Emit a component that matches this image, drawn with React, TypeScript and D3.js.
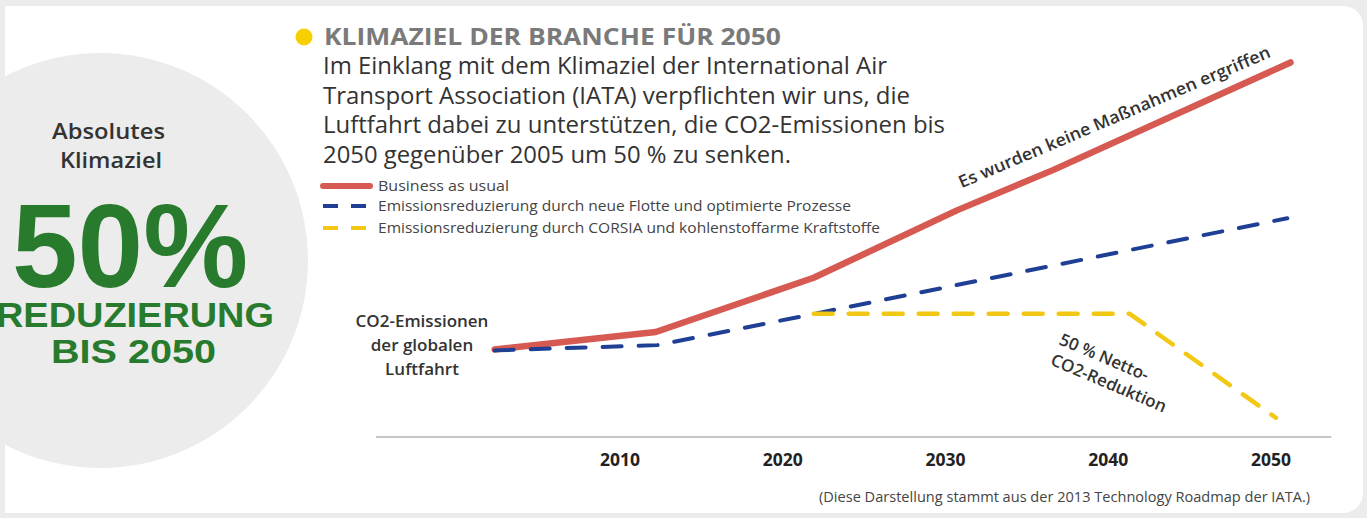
import React from "react";
import * as d3 from "d3";

// ---- Data ----
const bauYears = [2002.3, 2012.2, 2021.9, 2030.7, 2036.6, 2051.2];
const bauValues = [100, 120, 182, 259, 305, 428];
const fleetYears = [2002.3, 2012.3, 2022.0, 2051.0];
const fleetValues = [99, 105, 141, 250];
const corsiaYears = [2021.9, 2041.3, 2050.3];
const corsiaValues = [141, 141, 22];
const tickYears = [2010, 2020, 2030, 2040, 2050];
const axisYears = [1995, 2053.7];

const legendLabels = [
  "Business as usual",
  "Emissionsreduzierung durch neue Flotte und optimierte Prozesse",
  "Emissionsreduzierung durch CORSIA und kohlenstoffarme Kraftstoffe",
];
const legendWidths = [131, 473, 502];
const paragraphLines = [
  "Im Einklang mit dem Klimaziel der International Air",
  "Transport Association (IATA) verpflichten wir uns, die",
  "Luftfahrt dabei zu unterstützen, die CO2-Emissionen bis",
  "2050 gegenüber 2005 um 50 % zu senken.",
];
const paragraphWidths = [564, 587, 622, 468];
const startLabelLines = ["CO2-Emissionen", "der globalen", "Luftfahrt"];
const netLabelLines = ["50 % Netto-", "CO2-Reduktion"];

const RED = "#d65a51";
const BLUE = "#1e3f94";
const YELLOW = "#f3c815";
const GREEN = "#287a2c";
const FONT = "'Open Sans', 'DejaVu Sans', sans-serif";
const ARIAL = "'Liberation Sans', Arial, sans-serif";

export default function App() {
  const W = 1367;
  const H = 518;
  const x = d3.scaleLinear().domain([2010, 2050]).range([620, 1271]);
  const y = d3.scaleLinear().domain([0, 100]).range([437, 349.5]);

  const line = d3
    .line<[number, number]>()
    .x((d) => x(d[0]))
    .y((d) => y(d[1]))
    .curve(d3.curveLinear);

  const bau = line(bauYears.map((yr, i) => [yr, bauValues[i]]));
  const fleet = line(fleetYears.map((yr, i) => [yr, fleetValues[i]]));
  const corsia = line(corsiaYears.map((yr, i) => [yr, corsiaValues[i]]));

  const cardPath = `M5,6 H1343 A20,20 0 0 1 1363,26 V493 A20,20 0 0 1 1343,513 H5 Z`;

  return (
    <svg
      width={W}
      height={H}
      style={{ position: "absolute", left: 0, top: 0 }}
      xmlns="http://www.w3.org/2000/svg"
    >
      <rect x={0} y={0} width={W} height={H} fill="#ececec" />
      <path d={cardPath} fill="#ffffff" />
      <circle cx={100.5} cy={260.5} r={207.5} fill="#ececec" />

      {/* Left circle text */}
      <g fontFamily={FONT} fontWeight={600} fill="#333" fontSize={22} textAnchor="middle">
        <text x={108.5} y={139} textLength={113} lengthAdjust="spacingAndGlyphs">Absolutes</text>
        <text x={111} y={168} textLength={102} lengthAdjust="spacingAndGlyphs">Klimaziel</text>
      </g>
      <g fontFamily={ARIAL} fontWeight={700} fill={GREEN} textAnchor="middle">
        <text x={130} y={287} fontSize={118}>50%</text>
        <text x={135} y={327} fontSize={35} textLength={278} lengthAdjust="spacingAndGlyphs">
          REDUZIERUNG
        </text>
        <text x={133.5} y={363} fontSize={34} textLength={165} lengthAdjust="spacingAndGlyphs">
          BIS 2050
        </text>
      </g>

      {/* Title */}
      <circle cx={304} cy={37} r={8.5} fill="#f8cf00" />
      <text
        x={324}
        y={45}
        fontFamily={FONT}
        fontWeight={700}
        fontSize={23}
        fill="#7a7a7a"
        textLength={457}
        lengthAdjust="spacingAndGlyphs"
      >
        KLIMAZIEL DER BRANCHE FÜR 2050
      </text>
      <g fontFamily={FONT} fontSize={23} fill="#333">
        {paragraphLines.map((t, i) => (
          <text
            key={i}
            x={323}
            y={74 + i * 29.5}
            textLength={paragraphWidths[i]}
            lengthAdjust="spacingAndGlyphs"
          >
            {t}
          </text>
        ))}
      </g>

      {/* Legend */}
      <line x1={323} x2={370} y1={186} y2={186} stroke={RED} strokeWidth={6} strokeLinecap="round" />
      <line x1={323} x2={366} y1={206} y2={206} stroke={BLUE} strokeWidth={4} strokeDasharray="15 13" />
      <line x1={323} x2={366} y1={228} y2={228} stroke={YELLOW} strokeWidth={4} strokeDasharray="15 13" />
      <g fontFamily={FONT} fontSize={15} fill="#444">
        {legendLabels.map((t, i) => (
          <text
            key={i}
            x={378}
            y={[191, 211, 233][i]}
            textLength={legendWidths[i]}
            lengthAdjust="spacingAndGlyphs"
          >
            {t}
          </text>
        ))}
      </g>

      {/* Axis */}
      <line
        x1={x(axisYears[0])}
        x2={x(axisYears[1])}
        y1={y(0)}
        y2={y(0)}
        stroke="#b5b5b5"
        strokeWidth={1.6}
      />
      <g fontFamily={FONT} fontWeight={700} fontSize={17.5} fill="#222" textAnchor="middle">
        {tickYears.map((t) => (
          <text key={t} x={x(t)} y={466}>
            {t}
          </text>
        ))}
      </g>

      {/* Lines */}
      <path d={bau || ""} fill="none" stroke={RED} strokeWidth={6.5} strokeLinecap="round" strokeLinejoin="round" />
      <path
        d={fleet || ""}
        fill="none"
        stroke={BLUE}
        strokeWidth={4}
        strokeDasharray="19 17"
        strokeLinecap="round"
        strokeLinejoin="round"
      />
      <path
        d={corsia || ""}
        fill="none"
        stroke={YELLOW}
        strokeWidth={4.5}
        strokeDasharray="19 16"
        strokeLinecap="round"
        strokeLinejoin="round"
      />

      {/* Annotations */}
      <g fontFamily={FONT} fontWeight={600} fontSize={17} fill="#333" textAnchor="middle">
        {startLabelLines.map((t, i) => (
          <text key={i} x={422} y={327 + i * 24}>
            {t}
          </text>
        ))}
      </g>
      <text
        transform="translate(1116.7,122.5) rotate(-23)"
        fontFamily={FONT}
        fontWeight={600}
        fontSize={17}
        fill="#333"
        textAnchor="middle"
        textLength={337}
        lengthAdjust="spacingAndGlyphs"
      >
        Es wurden keine Maßnahmen ergriffen
      </text>
      <g transform="translate(1058,344) rotate(23)" fontFamily={FONT} fontWeight={600} fontSize={17} fill="#333">
        {netLabelLines.map((t, i) => (
          <text key={i} x={0} y={i * 22}>
            {t}
          </text>
        ))}
      </g>

      {/* Footnote */}
      <text
        x={819}
        y={502}
        fontFamily={FONT}
        fontSize={14}
        fill="#444"
        textLength={491}
        lengthAdjust="spacingAndGlyphs"
      >
        (Diese Darstellung stammt aus der 2013 Technology Roadmap der IATA.)
      </text>
    </svg>
  );
}
